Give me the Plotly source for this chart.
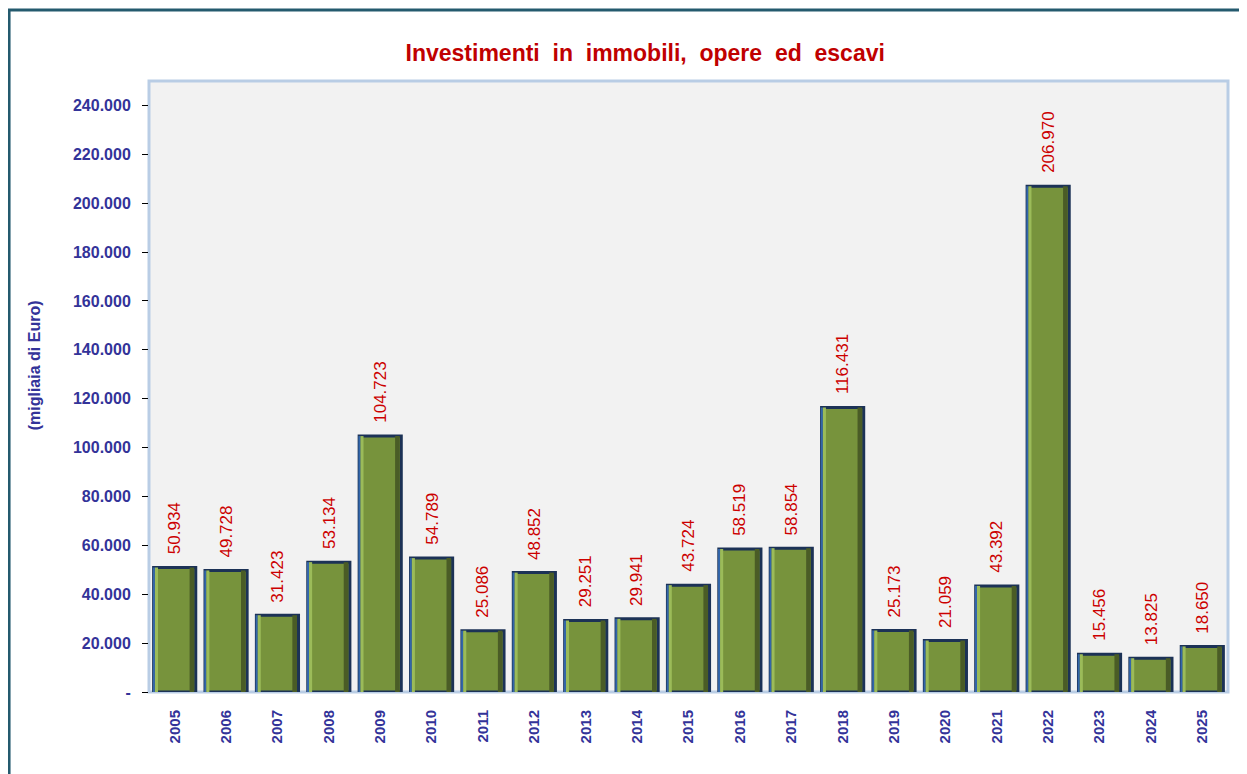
import plotly.graph_objects as go

anni = [str(a) for a in range(2005, 2026)]
valori = [50934, 49728, 31423, 53134, 104723, 54789, 25086, 48852, 29251, 29941,
          43724, 58519, 58854, 116431, 25173, 21059, 43392, 206970, 15456, 13825, 18650]
y_ticks = [0, 20000, 40000, 60000, 80000, 100000, 120000, 140000, 160000, 180000,
           200000, 220000, 240000]
y_labels = ['-'] + ['{:,}'.format(v).replace(',', '.') for v in y_ticks[1:]]

BLUE = '#333399'
RED = '#cc0000'
FONT = 'Liberation Sans, Arial'

pos = list(range(len(anni)))

fig = go.Figure()
fig.add_trace(go.Bar(x=pos, y=valori, marker=dict(color='#77933c', line=dict(color='#1c3256', width=3)),
                     width=0.82, customdata=anni, hovertemplate='%{customdata}: %{y}<extra></extra>'))
# bevel effect: blue left edge, light highlight, dark shade on the right
for off, w, col in [(-0.425, 0.04, '#3366aa'), (-0.385, 0.06, '#9bbb59'), (0.29, 0.09, '#4a5c26')]:
    fig.add_trace(go.Bar(x=pos, y=valori, width=w, offset=off, marker=dict(color=col, line=dict(width=0)),
                         hoverinfo='skip'))

annotations = []
for p, v in zip(pos, valori):
    annotations.append(dict(x=p, y=v, text='{:,}'.format(v).replace(',', '.'), showarrow=False,
                            textangle=-90, yanchor='bottom', yshift=11,
                            font=dict(family=FONT, size=17, color=RED)))

annotations.append(dict(text='<b>(migliaia di Euro)</b>', xref='paper', yref='paper', x=-0.1155, y=0.5345,
                        showarrow=False, textangle=-90, font=dict(family=FONT, size=16, color=BLUE)))

fig.update_layout(
    width=1247, height=774,
    margin=dict(l=141, r=27, t=73, b=90),
    paper_bgcolor='white', plot_bgcolor='#f2f2f2',
    barmode='overlay',
    title=dict(text='<b>Investimenti  in  immobili,  opere  ed  escavi</b>', x=0.511, xanchor='center', y=0.952,
               font=dict(family=FONT, size=23, color='#c00000')),
    showlegend=False,
    annotations=annotations,
    shapes=[
        dict(type='rect', xref='paper', yref='paper', x0=0, x1=1, y0=0, y1=1,
             line=dict(color='#b9cde5', width=3), layer='below'),
        dict(type='rect', xref='paper', yref='paper', x0=-0.1297, x1=1.2, y0=-0.3, y1=1.116,
             line=dict(color='#245a6e', width=3), layer='below'),
    ],
    xaxis=dict(range=[-0.5, len(anni) - 0.5], tickvals=pos, ticktext=['<b>' + a + '</b>' for a in anni],
               tickangle=-90, tickfont=dict(family=FONT, size=15, color=BLUE),
               showgrid=False, zeroline=False, ticks='', ticklabelstandoff=14),
    yaxis=dict(range=[0, 250000], tickvals=y_ticks, ticktext=['<b>' + t + '</b>' for t in y_labels],
               tickfont=dict(family=FONT, size=16, color=BLUE),
               showgrid=False, zeroline=False, ticks='outside', ticklen=6, tickcolor='black',
               ticklabelstandoff=8),
)

fig.write_html('out.html')
